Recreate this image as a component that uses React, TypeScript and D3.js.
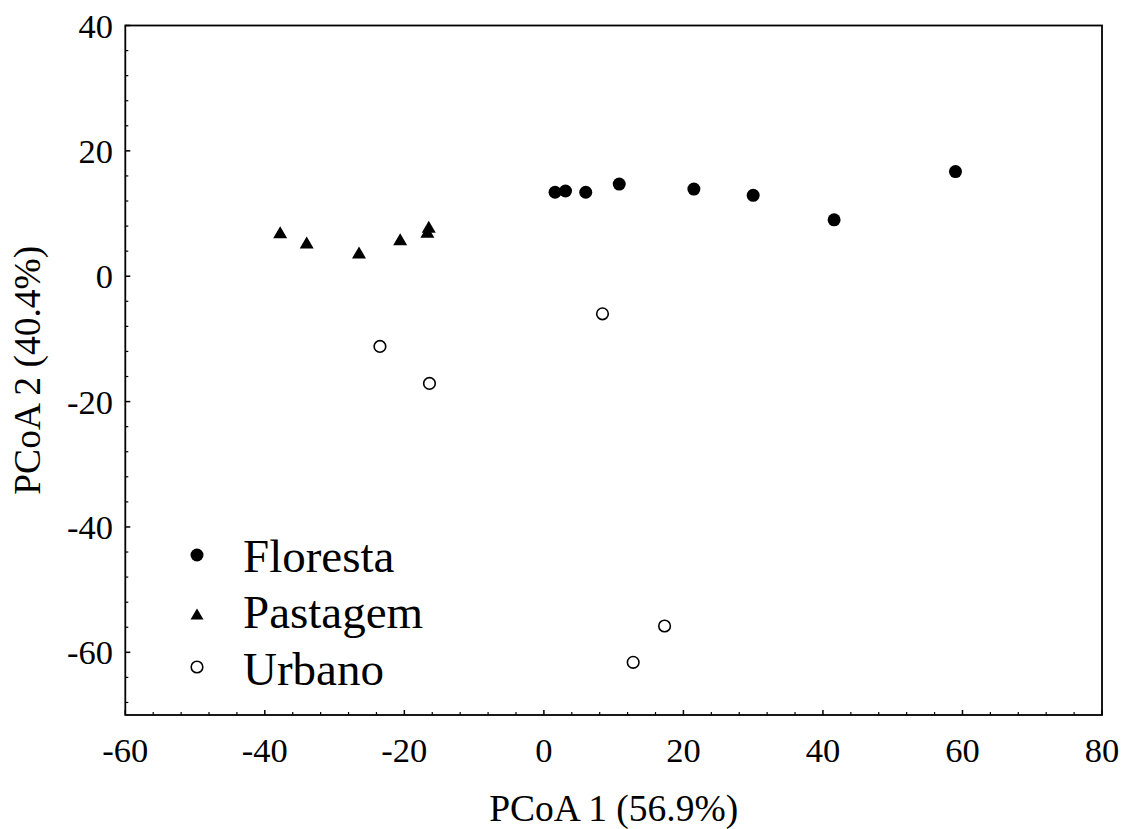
import React from 'react'
import { scaleLinear, range } from 'd3'

// group samples
const florestaX = [1.6, 3.1, 6.0, 10.8, 21.5, 30.0, 41.6, 59.0]
const florestaY = [13.4, 13.6, 13.4, 14.7, 13.9, 12.9, 9.0, 16.7]
const pastagemX = [-37.8, -34.0, -26.5, -20.6, -16.5, -16.7]
const pastagemY = [7.0, 5.4, 3.8, 5.9, 7.9, 7.1]
const urbanoX = [-23.5, -16.4, 8.4, 12.8, 17.3]
const urbanoY = [-11.2, -17.1, -6.0, -61.6, -55.8]

const xTicks = [-60, -40, -20, 0, 20, 40, 60, 80]
const yTicks = [-60, -40, -20, 0, 20, 40]
const legendLabels = ['Floresta', 'Pastagem', 'Urbano']

const W = 1130
const H = 829
const font = "'Liberation Serif', 'Times New Roman', serif"

const tri = (cx: number, cy: number, w = 14, h = 12) =>
    `M${cx},${cy - h / 2}L${cx + w / 2},${cy + h / 2}L${cx - w / 2},${cy + h / 2}Z`

const App = () => {
    const x = scaleLinear().domain([-60, 80]).range([125.3, 1102])
    const y = scaleLinear().domain([-70, 40]).range([715, 25.5])

    const xMinor = range(-60, 80.1, 4).filter(v => !xTicks.includes(v))
    const yMinor = range(-68, 40.1, 4).filter(v => !yTicks.includes(v))

    const [x0, x1] = x.range()
    const [y0, y1] = y.range()

    const legendY = [555, 614, 667]

    return (
        <svg width={W} height={H} style={{ position: 'absolute', left: 0, top: 0, display: 'block' }}
            fontFamily={font}>
            <rect width={W} height={H} fill="white" />

            {/* frame */}
            <rect x={x0} y={y1} width={x1 - x0} height={y0 - y1} fill="none" stroke="black" strokeWidth={1.8} />

            {/* x ticks */}
            {xTicks.map(v => (
                <line key={'xt' + v} x1={x(v)} x2={x(v)} y1={y0} y2={y0 - 5} stroke="black" strokeWidth={1.5} />
            ))}
            {xMinor.map(v => (
                <line key={'xm' + v} x1={x(v)} x2={x(v)} y1={y0} y2={y0 - 3} stroke="black" strokeWidth={1.2} />
            ))}
            {xTicks.map(v => (
                <text key={'xl' + v} x={x(v)} y={762} fontSize={34.5} textAnchor="middle">{v}</text>
            ))}

            {/* y ticks */}
            {yTicks.map(v => (
                <line key={'yt' + v} x1={x0} x2={x0 + 5} y1={y(v)} y2={y(v)} stroke="black" strokeWidth={1.5} />
            ))}
            {yMinor.map(v => (
                <line key={'ym' + v} x1={x0} x2={x0 + 3} y1={y(v)} y2={y(v)} stroke="black" strokeWidth={1.2} />
            ))}
            {yTicks.map(v => (
                <text key={'yl' + v} x={113} y={y(v) + 12} fontSize={34.5} textAnchor="end">{v}</text>
            ))}

            {/* axis titles */}
            <text x={(x0 + x1) / 2} y={821} fontSize={37.5} textAnchor="middle">PCoA 1 (56.9%)</text>
            <text transform={`translate(39.5,${(y0 + y1) / 2}) rotate(-90)`} fontSize={37.5} textAnchor="middle">PCoA 2 (40.4%)</text>

            {/* points */}
            {florestaX.map((v, i) => (
                <circle key={'f' + i} cx={x(v)} cy={y(florestaY[i])} r={6.5} fill="black" />
            ))}
            {pastagemX.map((v, i) => (
                <path key={'p' + i} d={tri(x(v), y(pastagemY[i]))} fill="black" />
            ))}
            {urbanoX.map((v, i) => (
                <circle key={'u' + i} cx={x(v)} cy={y(urbanoY[i])} r={5.8} fill="white" stroke="black" strokeWidth={1.6} />
            ))}

            {/* legend */}
            <circle cx={197} cy={legendY[0]} r={6.5} fill="black" />
            <path d={tri(197, legendY[1], 13, 11)} fill="black" />
            <circle cx={197} cy={legendY[2]} r={5.8} fill="white" stroke="black" strokeWidth={1.6} />
            {legendLabels.map((t, i) => (
                <text key={t} x={243} y={[572, 628, 685][i]} fontSize={47}>{t}</text>
            ))}
        </svg>
    )
}

export default App
